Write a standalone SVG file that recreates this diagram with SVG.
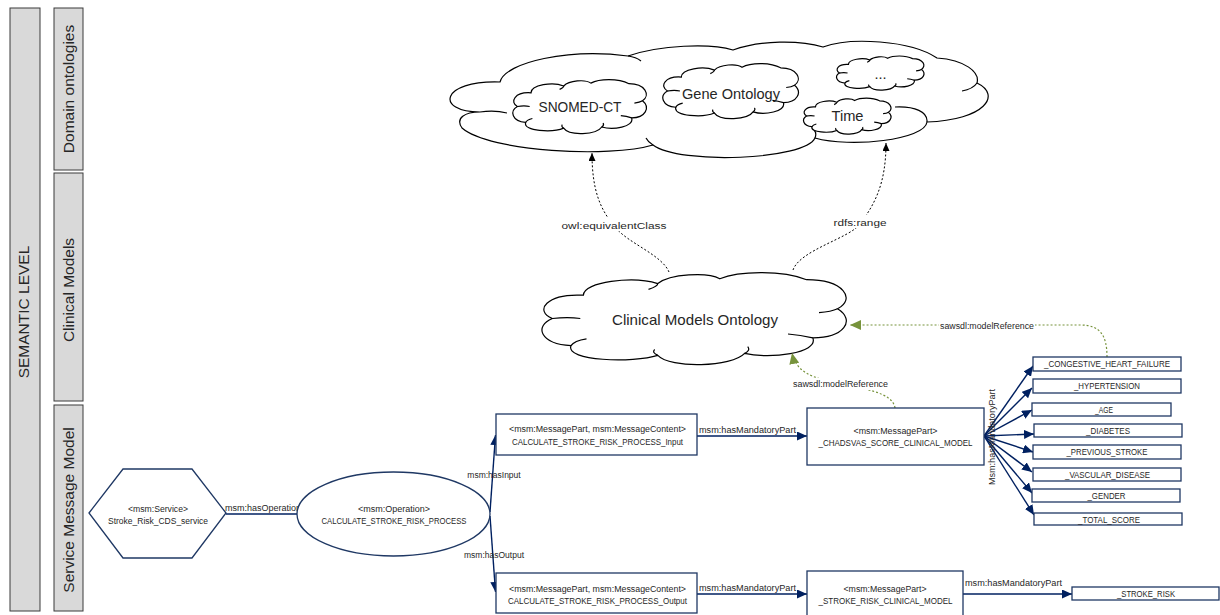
<svg xmlns="http://www.w3.org/2000/svg" xmlns:xlink="http://www.w3.org/1999/xlink" width="1220" height="615" viewBox="0 0 1220 615">
<style>
.band{fill:#d9d9d9;stroke:#3a3a3a;stroke-width:1}
.bt{font-family:"Liberation Sans",Arial,sans-serif;font-size:15.5px;fill:#262626;text-anchor:middle}
.nd{fill:#fff;stroke:#1f3864;stroke-width:1.3}
.t{font-family:"Liberation Sans",Arial,sans-serif;font-size:8.5px;fill:#262626;text-anchor:middle}
.ls{font-family:"Liberation Sans",Arial,sans-serif;font-size:8.5px;fill:#262626}
.ct{font-family:"Liberation Sans",Arial,sans-serif;font-size:14.5px;fill:#262626;text-anchor:middle}
.cl{fill:#fff;stroke:#000;stroke-width:1.2}
.cli{fill:none;stroke:#000;stroke-width:1.2}
.conn{stroke:#002060;stroke-width:1.4;fill:none}
.gr{stroke:#77933c;stroke-width:1.2;stroke-dasharray:2 2;fill:none}
.bk{stroke:#000;stroke-width:1;stroke-dasharray:2 2;fill:none}
.bg{fill:#fff}
</style>
<defs>
<marker id="an" markerUnits="userSpaceOnUse" viewBox="0 0 10 9" markerWidth="10" markerHeight="9" refX="10" refY="4.5" orient="auto"><path d="M0,0 L10,4.5 L0,9 z" fill="#002060"/></marker>
<marker id="ag" markerUnits="userSpaceOnUse" viewBox="0 0 11 10" markerWidth="11" markerHeight="10" refX="11" refY="5" orient="auto"><path d="M0,0 L11,5 L0,10 z" fill="#77933c"/></marker>
<marker id="ab" markerUnits="userSpaceOnUse" viewBox="0 0 8 7" markerWidth="8" markerHeight="7" refX="8" refY="3.5" orient="auto"><path d="M0,0 L8,3.5 L0,7 z" fill="#000"/></marker>
<g id="cloud">
<path class="cl" vector-effect="non-scaling-stroke" d="M4,50 C-2,42 2,24 14,26 C14,12 30,6 38,14 C42,4 54,2 58,9 C64,1 78,0 86,10 C98,10 102,30 96,40 C102,52 98,70 88,70 C90,86 74,92 66,86 C62,100 42,102 38,88 C30,96 8,94 10,78 C0,76 -2,58 4,50 Z"/>
<path class="cli" vector-effect="non-scaling-stroke" d="M4,50 Q9,48 13,50 M10,78 Q11,73 15,71 M38,14 Q38,17 35,20 M96,40 Q94,43 90,44 M88,70 Q84,67 80,66 M66,86 Q68,83 67,79 M38,88 Q36,85 37,82"/>
</g>
</defs>

<g id="bands">
<rect class="band" x="10" y="8" width="30" height="603"/>
<text class="bt" font-size="12.5" transform="translate(29,312) rotate(-90)">SEMANTIC LEVEL</text>
<rect class="band" x="54" y="8" width="29" height="162"/>
<text class="bt" transform="translate(74,89) rotate(-90)">Domain ontologies</text>
<rect class="band" x="54" y="173" width="29" height="228"/>
<text class="bt" transform="translate(74,290) rotate(-90)">Clinical Models</text>
<rect class="band" x="54" y="405" width="29" height="206"/>
<text class="bt" transform="translate(74,510) rotate(-90)">Service Message Model</text>
</g>

<g id="domain-cloud">
<path class="cl" d="M480,112 C435,112 440,80 500,82 C505,62 570,48 628,56 C660,45 710,43 733,50 C760,40 800,40 823,47 C850,37 910,40 937,58 C965,60 980,72 977,83 C1002,95 985,120 927,122 C925,140 850,148 815,138 C805,160 680,165 653,145 C610,158 490,152 462,128 C455,118 465,112 480,112 Z"/>
<path class="cli" d="M628,56 Q636,57 641,61 M977,83 Q973,89 962,91 M895,107 C915,106 928,112 927,122 M815,138 Q817,133 814,130 M653,145 Q648,142 646,138 M480,112 Q495,110 507,113"/>
</g>
<g id="snomed">
<use xlink:href="#cloud" transform="translate(512,78) scale(1.36,0.57)"/>
<text class="ct" font-size="15" x="580" y="112" textLength="83" lengthAdjust="spacingAndGlyphs">SNOMED-CT</text>
</g>
<g id="gene">
<use xlink:href="#cloud" transform="translate(662,62) scale(1.38,0.58)"/>
<text class="ct" x="731" y="98.5" textLength="98" lengthAdjust="spacingAndGlyphs">Gene Ontology</text>
</g>
<g id="dots">
<use xlink:href="#cloud" transform="translate(836,55) scale(0.89,0.36)"/>
<text class="ct" x="880.5" y="78.5">...</text>
</g>
<g id="time">
<use xlink:href="#cloud" transform="translate(803,97) scale(0.89,0.38)"/>
<text class="ct" x="847.5" y="121" textLength="32" lengthAdjust="spacingAndGlyphs">Time</text>
</g>
<g id="clinical-cloud">
<use xlink:href="#cloud" transform="translate(540,270) scale(3.1,0.97)"/>
<text class="ct" x="695" y="325" textLength="166" lengthAdjust="spacingAndGlyphs">Clinical Models Ontology</text>
</g>

<g id="connectors">
<line class="conn" x1="226" y1="514" x2="297" y2="514" stroke-width="1.6"/>
<text class="t" x="263" y="511" textLength="76" lengthAdjust="spacingAndGlyphs">msm:hasOperation</text>
<path class="conn" d="M490,512 L495.5,435" marker-end="url(#an)"/>
<text class="t" x="494" y="478">msm:hasInput</text>
<path class="conn" d="M490,516 L495.5,592" marker-end="url(#an)"/>
<text class="t" x="494" y="558">msm:hasOutput</text>
<path class="conn" d="M697,436 L807,436" marker-end="url(#an)"/>
<text class="ls" x="699" y="433" textLength="97" lengthAdjust="spacingAndGlyphs">msm:hasMandatoryPart</text>
<path class="conn" d="M697,594 L807,594" marker-end="url(#an)"/>
<text class="ls" x="699" y="591" textLength="97" lengthAdjust="spacingAndGlyphs">msm:hasMandatoryPart</text>
<path class="conn" d="M963,594 L1072,594" marker-end="url(#an)"/>
<text class="ls" x="965" y="586" textLength="97" lengthAdjust="spacingAndGlyphs">msm:hasMandatoryPart</text>
<path class="conn" d="M984,436 L1033,366" marker-end="url(#an)"/>
<path class="conn" d="M984,436 L1032,388" marker-end="url(#an)"/>
<path class="conn" d="M984,436 L1032,410" marker-end="url(#an)"/>
<path class="conn" d="M984,436 L1034,434" marker-end="url(#an)"/>
<path class="conn" d="M984,436 L1033,452" marker-end="url(#an)"/>
<path class="conn" d="M984,436 L1032,472" marker-end="url(#an)"/>
<path class="conn" d="M984,436 L1032,493" marker-end="url(#an)"/>
<path class="conn" d="M984,436 L1034,515" marker-end="url(#an)"/>
<text class="t" transform="translate(995,437) rotate(-90)" textLength="96" lengthAdjust="spacingAndGlyphs">Msm:hasMandatoryPart</text>
<path class="gr" d="M895,408 C893,392 860,388 840,384 C812,378 796,372 792,353" marker-end="url(#ag)"/>
<rect class="bg" x="792" y="378" width="97" height="12"/>
<text class="t" x="840.5" y="387" textLength="95" lengthAdjust="spacingAndGlyphs">sawsdl:modelReference</text>
<path class="gr" d="M1107,357 C1107,335 1100,325 1080,325 L850,325" marker-end="url(#ag)"/>
<rect class="bg" x="939" y="320" width="96" height="12"/>
<text class="t" x="987" y="329" textLength="94" lengthAdjust="spacingAndGlyphs">sawsdl:modelReference</text>
<path class="bk" d="M669,272 C662,255 628,243 616,228 C600,210 592,190 592,153" marker-end="url(#ab)"/>
<rect class="bg" x="561" y="218" width="106" height="13"/>
<text class="t" font-size="10" x="614" y="228.5" textLength="105" lengthAdjust="spacingAndGlyphs">owl:equivalentClass</text>
<path class="bk" d="M793,270 C800,250 850,238 860,224 C874,205 886,185 886,143" marker-end="url(#ab)"/>
<rect class="bg" x="832" y="215" width="56" height="13"/>
<text class="t" font-size="10" x="860" y="225.5" textLength="53" lengthAdjust="spacingAndGlyphs">rdfs:range</text>
</g>

<g id="service">
<polygon class="nd" points="89,513 123,469 192,469 226,513 192,558 123,558"/>
<text class="t" x="158" y="512" textLength="60" lengthAdjust="spacingAndGlyphs">&lt;msm:Service&gt;</text>
<text class="t" x="158" y="523.5" textLength="100" lengthAdjust="spacingAndGlyphs">Stroke_Risk_CDS_service</text>
</g>
<g id="operation">
<ellipse class="nd" cx="393.5" cy="514" rx="96.5" ry="42"/>
<text class="t" x="394" y="512" textLength="72" lengthAdjust="spacingAndGlyphs">&lt;msm:Operation&gt;</text>
<text class="t" x="394" y="523.5" textLength="145" lengthAdjust="spacingAndGlyphs">CALCULATE_STROKE_RISK_PROCESS</text>
</g>
<g id="input">
<rect class="nd" x="496" y="414" width="201" height="41"/>
<text class="t" x="597.5" y="432" textLength="177" lengthAdjust="spacingAndGlyphs">&lt;msm:MessagePart, msm:MessageContent&gt;</text>
<text class="t" x="597.5" y="445" textLength="171" lengthAdjust="spacingAndGlyphs">CALCULATE_STROKE_RISK_PROCESS_Input</text>
</g>
<g id="output">
<rect class="nd" x="496" y="573" width="201" height="40"/>
<text class="t" x="597.5" y="592" textLength="177" lengthAdjust="spacingAndGlyphs">&lt;msm:MessagePart, msm:MessageContent&gt;</text>
<text class="t" x="597.5" y="604" textLength="179" lengthAdjust="spacingAndGlyphs">CALCULATE_STROKE_RISK_PROCESS_Output</text>
</g>
<g id="chadsvas">
<rect class="nd" x="807" y="408" width="177" height="57"/>
<text class="t" x="895.5" y="434" textLength="84" lengthAdjust="spacingAndGlyphs">&lt;msm:MessagePart&gt;</text>
<text class="t" x="895.5" y="446" textLength="154" lengthAdjust="spacingAndGlyphs">_CHADSVAS_SCORE_CLINICAL_MODEL</text>
</g>
<g id="stroke-model">
<rect class="nd" x="807" y="571" width="156" height="50"/>
<text class="t" x="885" y="592" textLength="83" lengthAdjust="spacingAndGlyphs">&lt;msm:MessagePart&gt;</text>
<text class="t" x="885.5" y="604" textLength="134" lengthAdjust="spacingAndGlyphs">_STROKE_RISK_CLINICAL_MODEL</text>
</g>
<g id="stroke-risk">
<rect class="nd" x="1072" y="587" width="147" height="13"/>
<text class="t" x="1146" y="597" textLength="58" lengthAdjust="spacingAndGlyphs">_STROKE_RISK</text>
</g>
<g id="chf">
<rect class="nd" x="1033" y="357" width="148" height="14"/>
<text class="t" x="1107" y="367" textLength="126" lengthAdjust="spacingAndGlyphs">_CONGESTIVE_HEART_FAILURE</text>
</g>
<g id="hypertension">
<rect class="nd" x="1033" y="379" width="148" height="14"/>
<text class="t" x="1107" y="389" textLength="66" lengthAdjust="spacingAndGlyphs">_HYPERTENSION</text>
</g>
<g id="age">
<rect class="nd" x="1032" y="403" width="139" height="13"/>
<text class="t" x="1104" y="413" textLength="18" lengthAdjust="spacingAndGlyphs">_AGE</text>
</g>
<g id="diabetes">
<rect class="nd" x="1034" y="424" width="148" height="13"/>
<text class="t" x="1108" y="434" textLength="44" lengthAdjust="spacingAndGlyphs">_DIABETES</text>
</g>
<g id="previous-stroke">
<rect class="nd" x="1033" y="445" width="148" height="14"/>
<text class="t" x="1107" y="455" textLength="81" lengthAdjust="spacingAndGlyphs">_PREVIOUS_STROKE</text>
</g>
<g id="vascular">
<rect class="nd" x="1033" y="468" width="148" height="13"/>
<text class="t" x="1107.5" y="477.5" textLength="85" lengthAdjust="spacingAndGlyphs">_VASCULAR_DISEASE</text>
</g>
<g id="gender">
<rect class="nd" x="1032" y="489" width="148" height="13"/>
<text class="t" x="1106.5" y="498.5" textLength="38" lengthAdjust="spacingAndGlyphs">_GENDER</text>
</g>
<g id="total">
<rect class="nd" x="1034" y="513" width="148" height="12"/>
<text class="t" x="1109" y="522.5" textLength="62" lengthAdjust="spacingAndGlyphs">_TOTAL_SCORE</text>
</g>
</svg>
